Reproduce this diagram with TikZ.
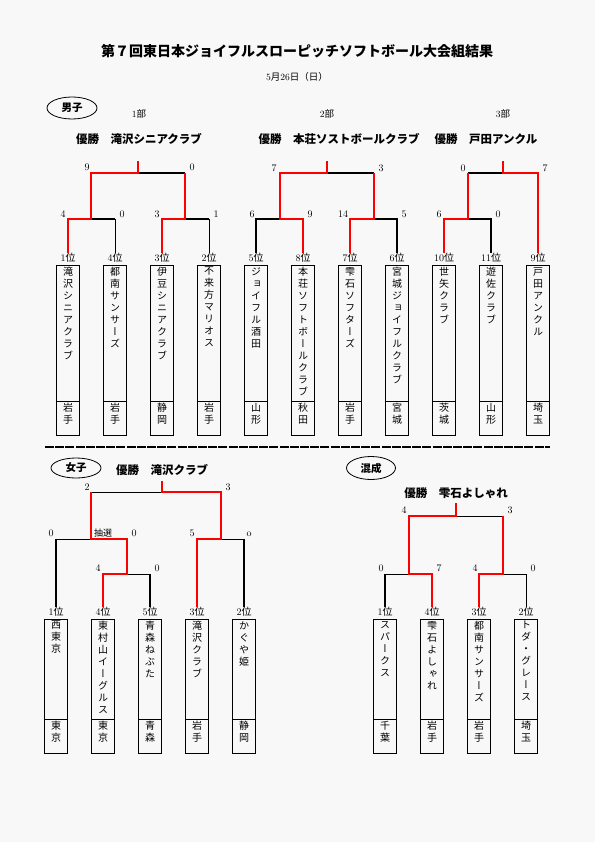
\documentclass[tikz,border=0pt]{standalone}
\usepackage{fontspec}
\usetikzlibrary{shapes.geometric}
\newfontfamily\jp{Noto Sans CJK JP}
\newfontfamily\jpv{Noto Sans CJK JP}[RawFeature=+vert]
\definecolor{wred}{RGB}{255,0,0}
\definecolor{bgc}{RGB}{248,248,248}
\makeatletter
\newcommand\vt[1]{\vbox{\jpv\fontsize{10}{12}\selectfont\baselineskip=12pt\lineskiplimit=-20pt\lineskip=0pt\vt@loop#1\relax}}
\def\vt@loop#1{\ifx\relax#1\else\hbox to 12pt{\hss#1\hss}\expandafter\vt@loop\fi}
\makeatother
\tikzset{
  win/.style={draw=wred, line width=2.6pt},
  lose/.style={draw=black, line width=2pt},
  midl/.style={draw=black, line width=1.4pt},
  thinl/.style={draw=black, line width=0.9pt},
  box/.style={draw, line width=1pt, minimum width=23pt, inner sep=0pt, anchor=north},
  vtext/.style={inner sep=0pt, anchor=north},
  rk/.style={inner sep=0pt, font=\fontsize{10}{12}\selectfont},
  sc/.style={inner sep=0pt, font=\fontsize{10}{12}\selectfont},
  champ/.style={inner sep=0pt, font=\jp\bfseries\fontsize{11.5}{13}\selectfont},
  oval/.style={ellipse, draw, line width=0.8pt, inner sep=0pt, font=\jp\bfseries\fontsize{10.5}{12}\selectfont},
  sepline/.style={draw=black, line width=2.2pt, dash pattern=on 9pt off 1.2pt}
}
\newcommand\tbox[8]{%
  \node[rk] (#1r) at (#2,#3-7) {#6{\jp 位}};
  \node[box, minimum height={#4-#3}] (#1) at (#2,#3) {};
  \node[box, minimum height={#5-#4}] (#1p) at (#2,#4) {};
  \node[vtext] (#1n) at (#2,#3+2) {\vt{#7}};
  \node[vtext] (#1pn) at (#2,#4+2) {\vt{#8}};
}
\begin{document}
\begin{tikzpicture}[x=1pt,y=-1pt]
\useasboundingbox (0,0) rectangle (595,842);
\fill[bgc] (0,0) rectangle (595,842);

% titles
\node[inner sep=0pt, font=\jp\bfseries\fontsize{14}{16}\selectfont] (title) at (297,51) {第７回東日本ジョイフルスローピッチソフトボール大会組結果};
\node[inner sep=0pt, font=\fontsize{9.5}{11}\selectfont] (date) at (297,77) {5{\jp 月}26{\jp 日（日）}};

% ===== men =====
\node[oval, minimum width=50pt, minimum height=22pt] (menl) at (72,108) {男子};
\node[inner sep=0pt, font=\fontsize{9.5}{11}\selectfont] (d1) at (139,114) {1{\jp 部}};
\node[inner sep=0pt, font=\fontsize{9.5}{11}\selectfont] (d2) at (327,114) {2{\jp 部}};
\node[inner sep=0pt, font=\fontsize{9.5}{11}\selectfont] (d3) at (503,114) {3{\jp 部}};
\node[champ] (c1) at (139,139) {優勝　滝沢シニアクラブ};
\node[champ] (c2) at (339,139) {優勝　本荘ソストボールクラブ};
\node[champ] (c3) at (486,139) {優勝　戸田アンクル};

\tbox{ma}{68}{265}{401}{435}{1}{滝沢シニアクラブ}{岩手}
\tbox{mb}{115}{265}{401}{435}{4}{都南サンサーズ}{岩手}
\tbox{mc}{162}{265}{401}{435}{3}{伊豆シニアクラブ}{静岡}
\tbox{md}{209}{265}{401}{435}{2}{不来方マリオス}{岩手}
\tbox{me}{256}{265}{401}{435}{5}{ジョイフル酒田}{山形}
\tbox{mf}{303}{265}{401}{435}{8}{本荘ソフトボールクラブ}{秋田}
\tbox{mg}{350}{265}{401}{435}{7}{雫石ソフターズ}{岩手}
\tbox{mh}{397}{265}{401}{435}{6}{宮城ジョイフルクラブ}{宮城}
\tbox{mi}{444}{265}{401}{435}{10}{世矢クラブ}{茨城}
\tbox{mj}{491}{265}{401}{435}{11}{遊佐クラブ}{山形}
\tbox{mk}{538}{265}{401}{435}{9}{戸田アンクル}{埼玉}

% bracket 1
\coordinate (A1top) at (138,161); \coordinate (A1) at (138,173);
\coordinate (A1L) at (91,173); \coordinate (A1R) at (185,173);
\coordinate (A2) at (91,219); \coordinate (A2L) at (68,219); \coordinate (A2R) at (115,219);
\coordinate (A3) at (185,219); \coordinate (A3L) at (162,219); \coordinate (A3R) at (209,219);
\draw[lose] (A1) -- (A1R);
\draw[lose] (A2) -- (A2R); \draw[thinl] (A2R) -- (mbr.north);
\draw[lose] (A3) -- (A3R); \draw[thinl] (A3R) -- (mdr.north);
\draw[win] (mar.north) -- (A2L) -- (A2) -- (A1L) -- (A1) -- (A1top);
\draw[win] (mcr.north) -- (A3L) -- (A3) -- (A1R);
\node[sc] (sa1) at (87,167) {9}; \node[sc] (sa2) at (192,167) {0};
\node[sc] (sa3) at (63,214) {4}; \node[sc] (sa4) at (122,214) {0};
\node[sc] (sa5) at (157,214) {3}; \node[sc] (sa6) at (216,214) {1};

% bracket 2
\coordinate (B1top) at (327,161); \coordinate (B1) at (327,173);
\coordinate (B1L) at (280,173); \coordinate (B1R) at (374,173);
\coordinate (B2) at (280,219); \coordinate (B2L) at (256,219); \coordinate (B2R) at (303,219);
\coordinate (B3) at (374,219); \coordinate (B3L) at (350,219); \coordinate (B3R) at (397,219);
\draw[lose] (B1) -- (B1R);
\draw[lose] (mer.north) -- (B2L) -- (B2);
\draw[lose] (mhr.north) -- (B3R) -- (B3);
\draw[win] (mfr.north) -- (B2R) -- (B2) -- (B1L) -- (B1) -- (B1top);
\draw[win] (mgr.north) -- (B3L) -- (B3) -- (B1R);
\node[sc] (sb1) at (274,168) {7}; \node[sc] (sb2) at (381,168) {3};
\node[sc] (sb3) at (252,214) {6}; \node[sc] (sb4) at (310,214) {9};
\node[sc] (sb5) at (343,214) {14}; \node[sc] (sb6) at (404,214) {5};

% bracket 3
\coordinate (C1top) at (503,161); \coordinate (C1) at (503,173);
\coordinate (C1L) at (468,173); \coordinate (C1R) at (538,173);
\coordinate (C2) at (468,219); \coordinate (C2L) at (444,219); \coordinate (C2R) at (491,219);
\draw[lose] (C1L) -- (C1);
\draw[lose] (mjr.north) -- (C2R) -- (C2);
\draw[win] (mir.north) -- (C2L) -- (C2) -- (C1L);
\draw[win] (mkr.north) -- (C1R) -- (C1) -- (C1top);
\node[sc] (sc1) at (463,168) {0}; \node[sc] (sc2) at (545,168) {7};
\node[sc] (sc3) at (439,214) {6}; \node[sc] (sc4) at (498,214) {0};

% separator
\coordinate (sepL) at (45,447); \coordinate (sepR) at (550,447);
\draw[sepline] (sepL) -- (sepR);

% ===== women =====
\node[oval, minimum width=50pt, minimum height=20pt] (woml) at (76,468) {女子};
\node[champ] (c4) at (162,470) {優勝　滝沢クラブ};
\tbox{fa}{56}{619}{719}{753}{1}{西東京}{東京}
\tbox{fb}{103}{619}{719}{753}{4}{東村山イーグルス}{東京}
\tbox{fc}{150}{619}{719}{753}{5}{青森ねぶた}{青森}
\tbox{fd}{197}{619}{719}{753}{3}{滝沢クラブ}{岩手}
\tbox{fe}{244}{619}{719}{753}{2}{かぐや姫}{静岡}

\coordinate (D1top) at (162,481); \coordinate (D1) at (162,492);
\coordinate (D1L) at (91,492); \coordinate (D1R) at (221,492);
\coordinate (D2) at (91,539); \coordinate (D2L) at (56,539); \coordinate (D2R) at (127,539);
\coordinate (D3) at (127,574); \coordinate (D3L) at (103,574); \coordinate (D3R) at (150,574);
\coordinate (D4) at (221,539); \coordinate (D4L) at (197,539); \coordinate (D4R) at (244,539);
\draw[thinl] (D1L) -- (D1);
\draw[thinl] (D2L) -- (D2); \draw[lose] (D2L) -- (far.north);
\draw[thinl] (D3) -- (D3R); \draw[midl] (D3R) -- (fcr.north);
\draw[thinl] (D4) -- (D4R); \draw[lose] (D4R) -- (fer.north);
\draw[win] (fbr.north) -- (D3L) -- (D3) -- (D2R) -- (D2) -- (D1L);
\draw[win] (fdr.north) -- (D4L) -- (D4) -- (D1R) -- (D1) -- (D1top);
\node[sc] (sd1) at (87,487) {2}; \node[sc] (sd2) at (228,487) {3};
\node[sc] (sd3) at (51,533) {0}; \node[inner sep=0pt, font=\jp\fontsize{9}{11}\selectfont] (sd4) at (103,533) {抽選};
\node[sc] (sd5) at (134,533) {0}; \node[sc] (sd6) at (192,533) {5};
\node[sc] (sd7) at (249,534) {o};
\node[sc] (sd8) at (98,568) {4}; \node[sc] (sd9) at (157,568) {0};

% ===== mixed =====
\node[oval, minimum width=49pt, minimum height=23pt] (mixl) at (371,468) {混成};
\node[champ] (c5) at (456,493) {優勝　雫石よしゃれ};
\tbox{xa}{385}{619}{719}{753}{1}{スパークス}{千葉}
\tbox{xb}{432}{619}{719}{753}{4}{雫石よしゃれ}{岩手}
\tbox{xc}{479}{619}{719}{753}{3}{都南サンサーズ}{岩手}
\tbox{xd}{526}{619}{719}{753}{2}{トダ・グレース}{埼玉}

\coordinate (E1top) at (456,503); \coordinate (E1) at (456,516);
\coordinate (E1L) at (409,516); \coordinate (E1R) at (503,516);
\coordinate (E2) at (409,574); \coordinate (E2L) at (385,574); \coordinate (E2R) at (432,574);
\coordinate (E3) at (503,574); \coordinate (E3L) at (479,574); \coordinate (E3R) at (526,574);
\draw[thinl] (E1) -- (E1R);
\draw[thinl] (E2L) -- (E2); \draw[lose] (E2L) -- (xar.north);
\draw[thinl] (E3) -- (E3R) -- (xdr.north);
\draw[win] (xbr.north) -- (E2R) -- (E2) -- (E1L) -- (E1) -- (E1top);
\draw[win] (xcr.north) -- (E3L) -- (E3) -- (E1R);
\node[sc] (se1) at (404,510) {4}; \node[sc] (se2) at (510,510) {3};
\node[sc] (se3) at (381,568) {0}; \node[sc] (se4) at (439,568) {7};
\node[sc] (se5) at (475,568) {4}; \node[sc] (se6) at (533,568) {0};
\end{tikzpicture}
\end{document}
